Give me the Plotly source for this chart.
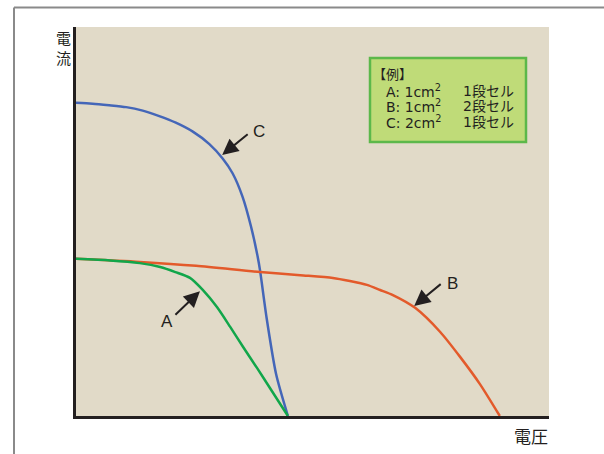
import plotly.graph_objects as go

# 電圧 (x) と 電流 (y) — 相対値 0〜100
c_v = [0, 3.5, 7.0, 10.6, 14.1, 17.6, 21.1, 24.7, 28.2, 31.0, 33.1, 35.2, 37.0, 38.4, 38.9, 40.3, 42.3, 44.8]
c_i = [80.5, 80.3, 79.9, 79.4, 78.5, 77.1, 75.4, 73.1, 69.9, 66.2, 62.4, 56.4, 48.7, 41.0, 37.5, 25.2, 10.8, 0]

b_v = [0, 13.5, 25.4, 38.9, 47.4, 54.3, 57.9, 61.5, 64.3, 67.0, 71.7, 77.0, 81.2, 85.4, 89.6]
b_i = [40.4, 39.6, 38.6, 37.0, 36.2, 35.5, 34.7, 33.7, 32.4, 31.1, 27.8, 21.6, 15.2, 8.2, 0]

a_v = [0, 7.2, 13.5, 17.8, 21.0, 24.1, 26.8, 29.8, 32.6, 35.3, 38.3, 41.0, 44.8]
a_i = [40.4, 40.0, 39.3, 38.3, 37.0, 35.5, 32.4, 28.0, 22.9, 17.8, 12.3, 7.2, 0]

legend_title = "【例】"
legend_names = ["A: 1cm<sup>2</sup>", "B: 1cm<sup>2</sup>", "C: 2cm<sup>2</sup>"]
legend_cells = ["1段セル", "2段セル", "1段セル"]

W, H = 604, 454
L, R, T, B = 76, 549, 27, 416
FONT = "Noto Sans CJK JP, Noto Sans, sans-serif"
LFONT = "DejaVu Sans, Noto Sans CJK JP, sans-serif"
INK = "#231f20"


def px(x):
    return (x - L) / (R - L)


def py(y):
    return (B - y) / (B - T)


def label(x, y, text, size, family=FONT, xanchor="center"):
    return dict(x=px(x), y=py(y), xref="paper", yref="paper", text=text, showarrow=False,
                xanchor=xanchor, yanchor="middle", font=dict(family=family, size=size, color=INK))


fig = go.Figure()
fig.add_trace(go.Scatter(x=c_v, y=c_i, mode="lines",
                         line=dict(color="#4466b8", width=2.5, shape="spline", smoothing=0.7)))
fig.add_trace(go.Scatter(x=b_v, y=b_i, mode="lines",
                         line=dict(color="#e35a2b", width=2.5, shape="spline", smoothing=0.7)))
fig.add_trace(go.Scatter(x=a_v, y=a_i, mode="lines",
                         line=dict(color="#11a64a", width=2.5, shape="spline", smoothing=0.7)))

shapes = [
    # outer frame (top and left)
    dict(type="line", xref="paper", yref="paper", x0=px(14), x1=px(606), y0=py(7.5), y1=py(7.5),
         line=dict(color="#8a8a8a", width=2)),
    dict(type="line", xref="paper", yref="paper", x0=px(14), x1=px(14), y0=py(7.5), y1=py(456),
         line=dict(color="#8a8a8a", width=2)),
    # legend box
    dict(type="rect", xref="paper", yref="paper", x0=px(370), x1=px(526), y0=py(58), y1=py(142),
         fillcolor="#bfdb78", line=dict(color="#5cb84a", width=2.5)),
]

annotations = []
# arrows: tip on the curve, tail offset in pixels
arrows = [(30.9, 67.1, 27, -22), (26.2, 32.1, -26, 25), (71.5, 28.3, 28, -23)]
for x, y, ax, ay in arrows:
    annotations.append(dict(x=x, y=y, xref="x", yref="y", ax=ax, ay=ay, text="", showarrow=True,
                            arrowhead=2, arrowsize=1.6, arrowwidth=2, arrowcolor=INK))
for name, x, y in [("C", 259, 131), ("A", 167, 321), ("B", 452, 283)]:
    annotations.append(label(x, y, name, 17, "Liberation Sans, Arial, sans-serif"))

annotations.append(label(371, 74, legend_title, 13, xanchor="left"))
for k, (nm, cell) in enumerate(zip(legend_names, legend_cells)):
    yy = 91 + k * 15.5
    annotations.append(label(384, yy, nm, 14, LFONT, xanchor="left"))
    annotations.append(label(461, yy, cell, 14, LFONT, xanchor="left"))

# axis titles
annotations.append(label(63, 47.5, "電<br>流", 15))
annotations.append(label(531, 435, "電圧", 17))

fig.update_layout(
    width=W, height=H,
    margin=dict(l=L, r=W - R, t=T, b=H - B),
    paper_bgcolor="white",
    plot_bgcolor="#e1dac8",
    showlegend=False,
    shapes=shapes,
    annotations=annotations,
)
fig.update_xaxes(range=[0, 100], showgrid=False, zeroline=False, showticklabels=False, ticks="",
                 showline=True, linecolor=INK, linewidth=3)
fig.update_yaxes(range=[0, 100], showgrid=False, zeroline=False, showticklabels=False, ticks="",
                 showline=True, linecolor=INK, linewidth=3)

# no page margin, so the figure sits at the window's top-left corner
fig.write_html("out.html", config={"displayModeBar": False},
               post_script="document.body.style.margin='0';")
